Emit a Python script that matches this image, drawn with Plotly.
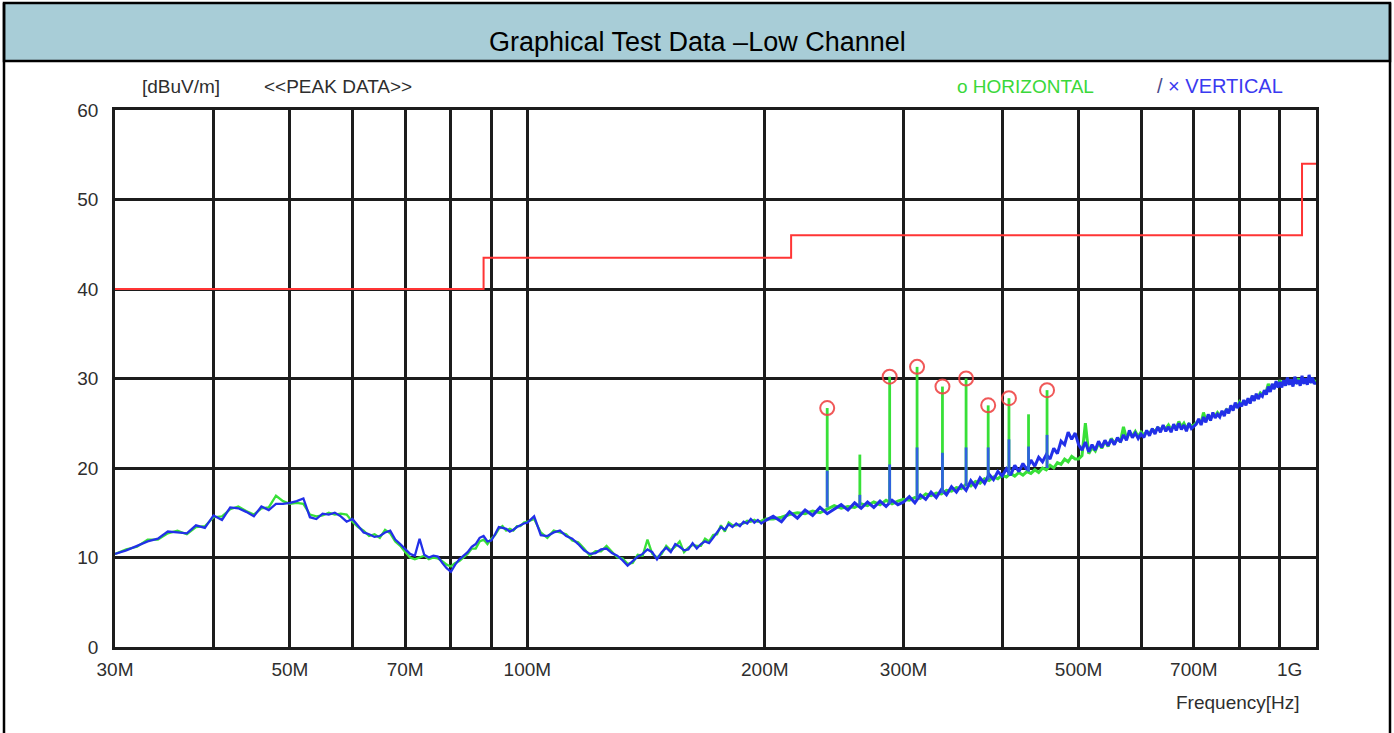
import plotly.graph_objects as go

# ---------------------------------------------------------------- sweep data
# Frequencies in MHz
freq_lo = [30, 31, 32, 33, 34, 35, 36, 37, 38, 39,
           40, 41, 42, 43, 44, 45, 46, 47, 48, 49,
           50, 51, 52, 53, 54, 55, 56, 57, 58, 59,
           60, 61, 62, 63, 64, 65, 66, 67, 68, 69,
           70, 71, 72, 73, 74, 75, 76, 77, 78, 79,
           80, 81, 82, 83, 84, 85, 86, 87, 88, 89,
           90, 91, 92, 93, 94, 95, 96, 97, 98, 99,
           100]
freq_mid = [102, 104, 106, 108, 110, 112, 114, 116, 118, 120,
            122, 124, 126, 128, 130, 132, 134, 136, 138, 140,
            142, 144, 146, 148, 150, 152, 154, 156, 158, 160,
            162, 164, 166, 168, 170, 172, 174, 176, 178, 180,
            182, 184, 186, 188, 190, 192, 194, 196, 198, 200]
freq_hi = [205, 210, 215, 220, 225, 230, 235, 240, 245, 250,
           255, 260, 265, 270, 275, 280, 285, 290, 295, 300,
           305, 310, 315, 320, 325, 330, 335, 340, 345, 350,
           355, 360, 365, 370, 375, 380, 385, 390, 395, 400,
           405, 410, 415, 420, 425, 430, 435, 440, 445, 450,
           455, 460, 465, 470, 475, 480, 485, 490, 495, 500,
           505, 510, 515, 520, 525, 530, 535, 540, 545, 550,
           555, 560, 565, 570, 575, 580, 585, 590, 595, 600,
           605, 610, 615, 620, 625, 630, 635, 640, 645, 650,
           655, 660, 665, 670, 675, 680, 685, 690, 695, 700,
           705, 710, 715, 720, 725, 730, 735, 740, 745, 750,
           755, 760, 765, 770, 775, 780, 785, 790, 795, 800,
           805, 810, 815, 820, 825, 830, 835, 840, 845, 850,
           855, 860, 865, 870, 875, 880, 885, 890, 895, 900,
           905, 910, 915, 920, 925, 930, 935, 940, 945, 950,
           955, 960, 965, 970, 975, 980, 985, 990, 995, 1000]

# Horizontal polarisation level, dBuV/m
horiz_lo = [10.4, 10.9, 11.2, 12.0, 12.0, 12.7, 13.0, 12.6, 13.4, 13.5,
            14.5, 14.6, 15.4, 15.7, 15.2, 14.8, 15.5, 15.6, 16.9, 16.3,
            16.0, 16.1, 16.0, 14.8, 14.6, 14.7, 15.0, 14.8, 14.9, 14.8,
            14.0, 13.4, 13.0, 12.4, 12.6, 12.2, 13.1, 12.7, 11.8, 11.3,
            10.6, 10.0, 9.8, 10.0, 10.2, 9.8, 10.0, 9.9, 9.6, 9.2,
            9.0, 9.4, 9.6, 10.0, 10.4, 11.0, 11.0, 11.8, 12.0, 11.5,
            12.1, 12.5, 13.2, 13.5, 13.0, 13.2, 13.0, 13.5, 13.5, 13.9,
            14.0]
horiz_mid = [14.3, 12.8, 12.2, 13.0, 12.8, 12.6, 11.9, 11.7, 11.0, 10.2,
             10.7, 10.7, 11.3, 10.7, 10.0, 9.9, 9.3, 9.4, 10.3, 10.2,
             12.0, 10.4, 10.0, 10.4, 11.3, 10.8, 11.2, 11.8, 10.6, 11.1,
             11.4, 11.3, 11.3, 12.1, 11.8, 12.5, 12.6, 13.6, 12.9, 13.9,
             13.6, 13.6, 13.7, 13.8, 14.1, 14.0, 14.2, 14.0, 14.1, 14.3]
horiz_hi = [14.3, 14.5, 14.8, 15.0, 14.9, 15.2, 15.0, 15.4, 15.8, 15.5,
            15.7, 15.6, 16.0, 15.8, 16.2, 15.9, 16.4, 16.0, 16.3, 16.5,
            16.4, 16.7, 16.6, 17.1, 16.9, 17.2, 17.1, 17.5, 17.4, 17.8,
            17.7, 18.2, 18.0, 18.5, 18.3, 18.8, 18.6, 19.0, 18.8, 19.2,
            19.0, 19.4, 19.1, 19.5, 19.2, 19.6, 19.4, 19.8, 19.5, 20.0,
            19.8, 20.3, 20.0, 20.6, 20.4, 21.0, 20.7, 21.3, 21.0, 21.0,
            21.4, 25.0, 21.6, 22.3, 21.9, 22.8, 22.2, 23.0, 22.4, 23.3,
            22.8, 23.2, 23.0, 24.6, 23.3, 23.9, 23.6, 24.1, 23.5, 24.0,
            23.7, 24.0, 23.9, 24.3, 24.1, 24.5, 24.3, 24.6, 24.4, 24.8,
            24.3, 24.7, 24.5, 25.2, 24.6, 25.0, 24.4, 24.9, 24.7, 24.8,
            25.1, 25.3, 25.0, 26.2, 25.3, 25.8, 25.5, 26.0, 25.8, 26.2,
            25.9, 26.2, 26.1, 26.5, 26.3, 26.8, 26.6, 27.0, 26.9, 27.4,
            27.1, 27.4, 27.3, 27.6, 27.4, 27.9, 27.7, 28.1, 28.0, 28.4,
            28.2, 28.5, 28.6, 29.4, 28.8, 29.2, 29.0, 29.5, 29.2, 29.8,
            29.3, 29.6, 29.4, 29.9, 29.5, 29.7, 29.3, 29.9, 29.6, 30.0,
            29.5, 29.9, 29.6, 29.8, 29.5, 30.1, 29.7, 29.9, 29.6, 29.8]

# Vertical polarisation level, dBuV/m
vert_lo = [10.4, 10.8, 11.3, 11.8, 12.1, 12.9, 12.8, 12.7, 13.6, 13.3,
           14.7, 14.2, 15.6, 15.5, 15.1, 14.6, 15.7, 15.3, 16.0, 16.0,
           16.1, 16.3, 16.6, 14.5, 14.3, 14.9, 14.8, 15.0, 14.6, 14.0,
           14.3, 13.6, 12.8, 12.6, 12.3, 12.4, 12.8, 13.0, 12.0, 11.5,
           11.0, 10.4, 10.2, 12.1, 10.3, 10.0, 10.2, 10.1, 9.4, 8.8,
           8.4, 9.2, 9.8, 10.2, 10.6, 11.2, 11.5, 12.2, 12.4, 11.8,
           11.9, 12.6, 13.4, 13.3, 13.2, 12.9, 13.1, 13.4, 13.6, 13.8,
           13.9]
vert_mid = [14.6, 12.5, 12.4, 12.8, 13.0, 12.4, 12.1, 11.5, 10.8, 10.4,
            10.5, 10.9, 11.0, 10.5, 10.2, 9.7, 9.1, 9.6, 10.1, 10.4,
            10.9, 10.6, 9.8, 10.6, 11.1, 10.6, 11.5, 11.2, 10.8, 10.9,
            11.6, 11.0, 11.5, 11.8, 11.6, 12.2, 12.8, 13.4, 13.1, 13.7,
            13.4, 13.8, 13.5, 14.0, 13.8, 14.3, 13.9, 14.2, 13.8, 14.1]
vert_hi = [14.6, 14.0, 15.1, 14.4, 15.3, 14.7, 15.6, 14.9, 15.4, 15.9,
           15.3, 16.1, 15.5, 16.2, 15.6, 16.3, 15.7, 16.4, 15.9, 16.2,
           16.8, 16.1, 17.0, 16.5, 17.3, 16.7, 17.6, 17.0, 17.9, 17.3,
           18.1, 17.5, 18.6, 17.9, 18.9, 18.3, 19.3, 18.7, 19.6, 19.1,
           19.9, 19.2, 20.3, 19.6, 20.5, 19.8, 20.9, 20.2, 21.2, 20.7,
           21.5, 21.0, 22.2, 21.6, 23.0, 22.6, 24.0, 23.2, 23.9, 22.6,
           22.0, 22.9, 21.8, 22.6, 22.0, 23.0, 22.3, 23.1, 22.5, 23.2,
           22.6, 23.4, 22.9, 23.7, 23.1, 24.2, 23.4, 23.9, 23.3, 23.8,
           23.4, 24.2, 23.6, 24.4, 23.8, 24.6, 24.0, 24.8, 24.1, 24.6,
           24.0, 24.9, 24.2, 25.0, 24.3, 24.8, 24.1, 25.0, 24.4, 24.6,
           24.9, 25.5, 24.8, 25.7, 25.1, 26.0, 25.3, 26.2, 25.6, 26.0,
           25.7, 26.4, 25.8, 26.6, 26.1, 27.0, 26.4, 27.3, 26.7, 27.2,
           26.9, 27.6, 27.0, 27.8, 27.2, 28.1, 27.5, 28.3, 27.7, 28.2,
           28.0, 28.7, 28.2, 29.1, 28.5, 29.4, 28.8, 29.7, 29.0, 29.6,
           29.0, 29.8, 29.2, 30.1, 29.3, 29.9, 29.1, 30.2, 29.4, 29.8,
           29.2, 30.3, 29.4, 30.0, 29.3, 30.4, 29.5, 30.1, 29.4, 29.6]

# Narrow-band emissions (clock harmonics), MHz / dBuV/m
spike_freq = [240, 264, 288, 312, 336, 360, 384, 408, 432, 456]
spike_floor = [15.6, 15.8, 16.0, 16.6, 17.2, 18.0, 18.7, 19.2, 19.6, 20.0]
spike_horiz = [26.7, 21.5, 30.2, 31.3, 29.1, 30.0, 27.0, 27.8, 26.0, 28.7]
spike_vert = [19.7, 17.0, 20.4, 22.3, 21.7, 22.3, 22.3, 23.2, 22.4, 23.7]
peak_flag = [1, 0, 1, 1, 1, 1, 1, 1, 0, 1]

# Limit line (step edges), MHz / dBuV/m
limit_freq = [30, 88, 216, 960, 1000]
limit_level = [40, 43.5, 46, 54, 54]

# Axis ticks
grid_freq = [30, 40, 50, 60, 70, 80, 90, 100, 200, 300, 400, 500,
             600, 700, 800, 900, 1000]
grid_text = ["30M", "", "50M", "", "70M", "", "", "100M", "200M", "300M", "",
             "500M", "", "700M", "", "", "1G" + "\u00a0" * 10]
level_ticks = [0, 10, 20, 30, 40, 50, 60]

# ---------------------------------------------------------------- layout
W, H = 1394, 733
L, R, T, B = 115, 1316, 110, 647
FONT = "Liberation Sans, Arial, sans-serif"
GREEN = "#38e038"
BLUE = "#2230e8"
GRID = "#1c1c1c"
TEXT = "#2e2e2e"


def px_x(px):
    return (px - L) / (R - L)


def px_y(py):
    return (B - py) / (B - T)


# Lower band (smooth) and upper band (dense sweep) share the 200 MHz point
n_low = len(freq_lo) + len(freq_mid)
freq = freq_lo + freq_mid + freq_hi
horiz = horiz_lo + horiz_mid + horiz_hi
vert = vert_lo + vert_mid + vert_hi

sx_h, sy_h, sx_v, sy_v = [], [], [], []
for f, base, hv, vv in zip(spike_freq, spike_floor, spike_horiz, spike_vert):
    sx_h += [f, f, None]
    sy_h += [base, hv, None]
    sx_v += [f, f, None]
    sy_v += [base, vv, None]

fig = go.Figure()
for series, colour in ((horiz, GREEN), (vert, BLUE)):
    fig.add_trace(go.Scatter(x=freq[:n_low], y=series[:n_low], mode="lines",
                             line=dict(color=colour, width=2.3)))
    fig.add_trace(go.Scatter(x=freq[n_low - 1:], y=series[n_low - 1:],
                             mode="lines", line=dict(color=colour, width=3)))
    if colour == GREEN:
        fig.add_trace(go.Scatter(x=sx_h, y=sy_h, mode="lines",
                                 line=dict(color=GREEN, width=2.8)))
fig.add_trace(go.Scatter(x=sx_v, y=sy_v, mode="lines",
                         line=dict(color="#2f62de", width=2.8)))
fig.add_trace(go.Scatter(x=limit_freq, y=limit_level, mode="lines",
                         line=dict(color="#ff3535", width=2, shape="hv")))
fig.add_trace(go.Scatter(
    x=[f for f, k in zip(spike_freq, peak_flag) if k],
    y=[v for v, k in zip(spike_horiz, peak_flag) if k],
    mode="markers",
    marker=dict(symbol="circle-open", size=14, color="rgba(238,70,70,0.9)",
                line=dict(color="rgba(238,70,70,0.9)", width=2))))

fig.update_xaxes(type="log", range=[1.4771213, 3.0],
                 tickvals=grid_freq, ticktext=grid_text,
                 showgrid=True, gridcolor=GRID, gridwidth=2.5,
                 showline=True, linecolor=GRID, linewidth=2.5, mirror=True,
                 ticks="", ticklabelstandoff=3, zeroline=False,
                 tickfont=dict(family=FONT, size=19, color=TEXT))
fig.update_yaxes(range=[0, 60], tickvals=level_ticks,
                 showgrid=True, gridcolor=GRID, gridwidth=2.5,
                 showline=True, linecolor=GRID, linewidth=2.5, mirror=True,
                 ticks="", ticklabelstandoff=10, zeroline=False,
                 tickfont=dict(family=FONT, size=19, color=TEXT))

# Header band and outer frame
fig.add_shape(type="rect", xref="paper", yref="paper",
              x0=px_x(4), x1=px_x(1390), y0=px_y(61), y1=px_y(3),
              fillcolor="#a8cdd7", line=dict(color="black", width=2.5),
              layer="below")
for xp in (4, 1390):
    fig.add_shape(type="line", xref="paper", yref="paper",
                  x0=px_x(xp), x1=px_x(xp), y0=px_y(3), y1=px_y(740),
                  line=dict(color="black", width=2.5))


def label(text, x, y, size=19, color=TEXT, anchor="left"):
    fig.add_annotation(text=text, x=px_x(x), y=px_y(y), xref="paper",
                       yref="paper", xanchor=anchor, yanchor="middle",
                       showarrow=False,
                       font=dict(family=FONT, size=size, color=color))


label("Graphical Test Data \u2013Low Channel", 697, 42, size=27,
      color="black", anchor="center")
label("[dBuV/m]", 140, 86)
label("&lt;&lt;PEAK DATA&gt;&gt;", 262, 86)
label("o HORIZONTAL", 955, 86, color="#3ad83a")
label("<span style='color:#4a4a8a'>/</span> \u00d7 VERTICAL", 1155, 86,
      size=20, color="#3a3af0")
label("Frequency[Hz]", 1302, 703, anchor="right")

fig.update_layout(width=W, height=H, autosize=False, showlegend=False,
                  margin=dict(l=L, r=W - R, t=T, b=H - B),
                  paper_bgcolor="white", plot_bgcolor="white")

fig.write_html("out.html")
